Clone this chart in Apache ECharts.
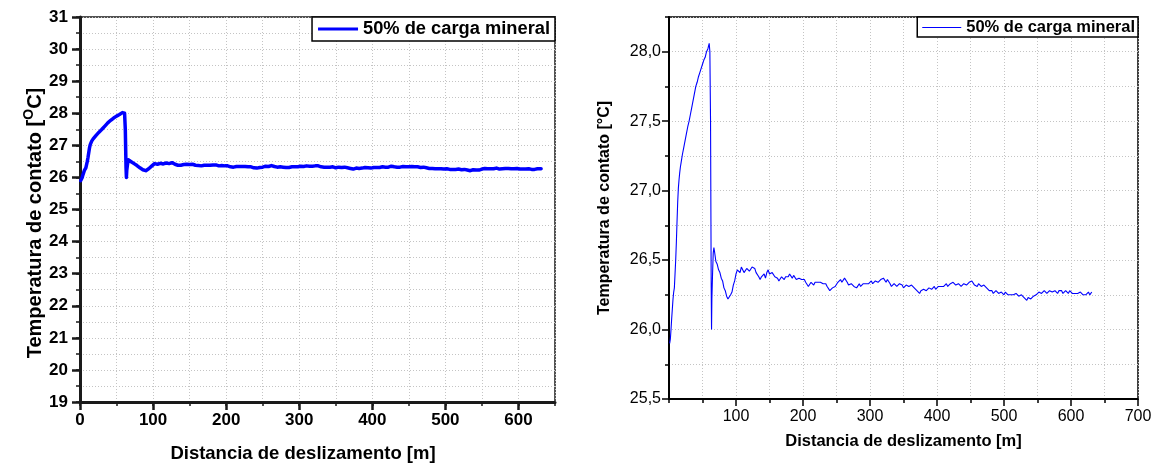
<!DOCTYPE html>
<html>
<head>
<meta charset="utf-8">
<script src="https://cdn.jsdelivr.net/npm/echarts@6/dist/echarts.min.js"></script>
<style>
  html, body { margin: 0; padding: 0; background: #fff; }
  #chart { width: 1157px; height: 468px; }
</style>
</head>
<body>
<div id="chart"></div>
<script>
// Contact temperature versus sliding distance, 50% mineral filler
const seriesName = '50% de carga mineral';

const distance = [
  1, 2, 3, 4, 5, 6, 7, 8, 9, 10, 11, 12, 13, 14, 15, 16, 17, 18, 20, 22,
  24, 26, 28, 30, 32, 34, 36, 38, 40, 42, 44, 46, 48, 50, 52, 54, 56, 58, 60, 61,
  62, 63, 63.5, 64, 65, 66, 67, 68, 70, 72, 74, 76, 78, 80, 82, 84, 86, 88, 90, 92,
  94, 96, 98,
  100, 102, 104, 106, 108, 110, 112, 114, 116, 118, 120, 122, 124, 126, 128, 130, 132, 134, 136, 138,
  140, 142, 144, 146, 148, 150, 152, 154, 156, 158, 160, 162, 164, 166, 168, 170, 172, 174, 176, 178,
  180, 182, 184, 186, 188, 190, 192, 194, 196, 198, 200, 202, 204, 206, 208, 210, 212, 214, 216, 218,
  220, 222, 224, 226, 228, 230, 232, 234, 236, 238, 240, 242, 244, 246, 248, 250, 252, 254, 256, 258,
  260, 262, 264, 266, 268, 270, 272, 274, 276, 278, 280, 282, 284, 286, 288, 290, 292, 294, 296, 298,
  300, 302, 304, 306, 308, 310, 312, 314, 316, 318, 320, 322, 324, 326, 328, 330, 332, 334, 336, 338,
  340, 342, 344, 346, 348, 350, 352, 354, 356, 358, 360, 362, 364, 366, 368, 370, 372, 374, 376, 378,
  380, 382, 384, 386, 388, 390, 392, 394, 396, 398, 400, 402, 404, 406, 408, 410, 412, 414, 416, 418,
  420, 422, 424, 426, 428, 430, 432, 434, 436, 438, 440, 442, 444, 446, 448, 450, 452, 454, 456, 458,
  460, 462, 464, 466, 468, 470, 472, 474, 476, 478, 480, 482, 484, 486, 488, 490, 492, 494, 496, 498,
  500, 502, 504, 506, 508, 510, 512, 514, 516, 518, 520, 522, 524, 526, 528, 530, 532, 534, 536, 538,
  540, 542, 544, 546, 548, 550, 552, 554, 556, 558, 560, 562, 564, 566, 568, 570, 572, 574, 576, 578,
  580, 582, 584, 586, 588, 590, 592, 594, 596, 598, 600, 602, 604, 606, 608, 610, 612, 614, 616, 618,
  620, 622, 624, 626, 628, 631
];

const temperature = [
  25.90, 25.93, 26.00, 26.08, 26.15, 26.22, 26.27, 26.30, 26.40, 26.50, 26.63, 26.78, 26.92, 27.02, 27.08, 27.13, 27.17, 27.20, 27.26, 27.31,
  27.36, 27.41, 27.46, 27.50, 27.55, 27.60, 27.65, 27.70, 27.75, 27.78, 27.82, 27.85, 27.88, 27.91, 27.94, 27.96, 28.00, 28.02, 28.06, 28.00,
  27.50, 26.30, 26.00, 26.22, 26.40, 26.55, 26.59, 26.56, 26.49, 26.47, 26.43, 26.41, 26.37, 26.35, 26.30, 26.28, 26.24, 26.22, 26.21, 26.25,
  26.27, 26.32, 26.35,
  26.40, 26.43, 26.42, 26.41, 26.45, 26.44, 26.41, 26.42, 26.44, 26.45, 26.42, 26.43, 26.45, 26.46, 26.44, 26.41, 26.40, 26.38, 26.36, 26.38,
  26.39, 26.40, 26.37, 26.41, 26.43, 26.40, 26.39, 26.41, 26.40, 26.38, 26.37, 26.37, 26.35, 26.36, 26.38, 26.38, 26.36, 26.38, 26.39, 26.38,
  26.40, 26.39, 26.37, 26.39, 26.38, 26.36, 26.35, 26.37, 26.37, 26.36, 26.35, 26.36, 26.34, 26.33, 26.31, 26.32, 26.34, 26.34, 26.32, 26.34,
  26.35, 26.34, 26.33, 26.34, 26.35, 26.33, 26.32, 26.33, 26.31, 26.30, 26.28, 26.29, 26.30, 26.31, 26.31, 26.32, 26.34, 26.35, 26.36, 26.34,
  26.35, 26.37, 26.36, 26.34, 26.32, 26.32, 26.33, 26.33, 26.31, 26.32, 26.30, 26.31, 26.33, 26.31, 26.32, 26.33, 26.34, 26.33, 26.32, 26.33,
  26.34, 26.35, 26.33, 26.34, 26.35, 26.36, 26.34, 26.35, 26.36, 26.35, 26.37, 26.36, 26.34, 26.36, 26.35, 26.33, 26.31, 26.32, 26.33, 26.32,
  26.31, 26.32, 26.33, 26.33, 26.32, 26.30, 26.31, 26.32, 26.32, 26.31, 26.30, 26.32, 26.31, 26.30, 26.29, 26.28, 26.27, 26.26, 26.28, 26.29,
  26.29, 26.28, 26.28, 26.29, 26.30, 26.31, 26.29, 26.30, 26.31, 26.29, 26.30, 26.31, 26.32, 26.31, 26.30, 26.31, 26.32, 26.33, 26.31, 26.32,
  26.33, 26.32, 26.34, 26.35, 26.32, 26.33, 26.33, 26.32, 26.31, 26.32, 26.33, 26.34, 26.32, 26.33, 26.34, 26.33, 26.35, 26.34, 26.32, 26.33,
  26.31, 26.33, 26.32, 26.31, 26.30, 26.32, 26.31, 26.30, 26.29, 26.28, 26.27, 26.28, 26.26, 26.27, 26.28, 26.27, 26.26, 26.27, 26.27, 26.26,
  26.25, 26.27, 26.26, 26.25, 26.24, 26.25, 26.26, 26.25, 26.24, 26.26, 26.25, 26.24, 26.23, 26.25, 26.24, 26.23, 26.22, 26.21, 26.23, 26.24,
  26.22, 26.23, 26.24, 26.23, 26.25, 26.26, 26.27, 26.28, 26.26, 26.27, 26.28, 26.27, 26.26, 26.27, 26.28, 26.29, 26.27, 26.26, 26.28, 26.27,
  26.26, 26.28, 26.27, 26.28, 26.26, 26.27, 26.28, 26.27, 26.26, 26.28, 26.27, 26.26, 26.25, 26.26, 26.27, 26.26, 26.25, 26.27, 26.26, 26.25,
  26.24, 26.25, 26.26, 26.27, 26.25, 26.27
];

// Major tick positions (labelled) for each panel
const leftXTicks = [0, 100, 200, 300, 400, 500, 600];
const leftYTicks = [19, 20, 21, 22, 23, 24, 25, 26, 27, 28, 29, 30, 31];
const rightXTicks = [100, 200, 300, 400, 500, 600, 700];
const rightYTicks = [25.5, 26.0, 26.5, 27.0, 27.5, 28.0];

const points = distance.map((d, i) => [d, temperature[i]]);

const FONT = 'Arial, "Liberation Sans", sans-serif';
const BLUE = '#0000ff';
const gridLine = { show: true, lineStyle: { color: '#c4c4c4', width: 1, type: [1, 2] } };

function minorAxis(base, cfg) {
  return Object.assign({
    type: 'value',
    axisLine: { show: true, onZero: false, lineStyle: { color: cfg.lineColor, width: cfg.lineWidth } },
    axisTick: { show: true, inside: false, length: cfg.minorLen, lineStyle: { color: cfg.lineColor, width: 1.5 } },
    splitLine: gridLine
  }, base);
}

function majorTickAxis(base, ticks, cfg) {
  return Object.assign({
    type: 'value',
    axisLine: { show: false, onZero: false },
    axisTick: { show: true, inside: false, length: cfg.majorLen, customValues: ticks,
      lineStyle: { color: cfg.lineColor, width: cfg.tickWidth } },
    axisLabel: { show: false },
    splitLine: { show: false }
  }, base);
}

const leftCfg = { lineColor: '#1a1a1a', lineWidth: 3, minorLen: 4, majorLen: 8, tickWidth: 2.5 };
const rightCfg = { lineColor: '#000', lineWidth: 2, minorLen: 4, majorLen: 7, tickWidth: 1.5 };

const commaFmt = v => v.toFixed(1).replace('.', ',');

const option = {
  animation: false,
  backgroundColor: '#fff',
  textStyle: { fontFamily: FONT, color: '#000' },
  grid: [
    { left: 80, top: 17, width: 475, height: 385, show: true, borderColor: '#1a1a1a', borderWidth: 1.5, backgroundColor: 'transparent' },
    { left: 669, top: 17, width: 469, height: 382, show: true, borderColor: '#000', borderWidth: 1.5, backgroundColor: 'transparent' }
  ],
  legend: [
    {
      data: [seriesName], right: 602, top: 17, orient: 'horizontal',
      icon: 'rect', itemWidth: 40, itemHeight: 3,
      padding: [3, 5, 3, 6], borderColor: '#000', borderWidth: 1.5, backgroundColor: '#fff',
      selectedMode: false,
      textStyle: { fontFamily: FONT, fontWeight: 'bold', fontSize: 18.3, color: '#000' }
    },
    {
      data: [seriesName], right: 19, top: 17, orient: 'horizontal',
      icon: 'rect', itemWidth: 39, itemHeight: 1,
      padding: [2, 3, 1, 5], borderColor: '#000', borderWidth: 1.5, backgroundColor: '#fff',
      selectedMode: false,
      textStyle: { fontFamily: FONT, fontWeight: 'bold', fontSize: 16.5, color: '#000' }
    }
  ],
  xAxis: [
    minorAxis({
      gridIndex: 0, min: 0, max: 650, interval: 50,
      axisLabel: { margin: 10, fontFamily: FONT, fontWeight: 'bold', fontSize: 17, color: '#000',
        formatter: v => (v % 100 === 0 ? String(v) : '') },
      name: 'Distancia de deslizamento [m]', nameLocation: 'middle', nameGap: 42,
      nameTextStyle: { fontFamily: FONT, fontWeight: 'bold', fontSize: 18.5, color: '#000', padding: [0, 29, 0, 0] }
    }, leftCfg),
    majorTickAxis({ gridIndex: 0, min: 0, max: 650, interval: 100, position: 'bottom', offset: 0 }, leftXTicks, leftCfg),
    minorAxis({
      gridIndex: 1, min: 0, max: 700, interval: 50,
      axisLabel: { margin: 10, fontFamily: FONT, fontSize: 16, color: '#000',
        formatter: v => (v % 100 === 0 && v > 0 ? String(v) : '') },
      name: 'Distancia de deslizamento [m]', nameLocation: 'middle', nameGap: 34,
      nameTextStyle: { fontFamily: FONT, fontWeight: 'bold', fontSize: 16.5, color: '#000' }
    }, rightCfg),
    majorTickAxis({ gridIndex: 1, min: 0, max: 700, interval: 100, position: 'bottom', offset: 0 }, rightXTicks, rightCfg)
  ],
  yAxis: [
    minorAxis({
      gridIndex: 0, min: 19, max: 31, interval: 0.5,
      axisLabel: { margin: 12, fontFamily: FONT, fontWeight: 'bold', fontSize: 17, color: '#000',
        formatter: v => (Number.isInteger(v) ? String(v) : '') },
      name: '{a|Temperatura de contato [}{s|O}{a|C]}', nameLocation: 'middle', nameGap: 31, nameRotate: 90,
      nameTextStyle: {
        padding: [0, 27, 0, 0],
        rich: {
          a: { fontFamily: FONT, fontWeight: 'bold', fontSize: 20, color: '#000', lineHeight: 26 },
          s: { fontFamily: FONT, fontWeight: 'bold', fontSize: 14, color: '#000', verticalAlign: 'top', lineHeight: 14 }
        }
      }
    }, leftCfg),
    majorTickAxis({ gridIndex: 0, min: 19, max: 31, interval: 1, position: 'left', offset: 0 }, leftYTicks, leftCfg),
    minorAxis({
      gridIndex: 1, min: 25.5, max: 28.25, interval: 0.25,
      axisLabel: { margin: 8, fontFamily: FONT, fontSize: 16, color: '#000',
        formatter: v => (Math.abs(v * 2 - Math.round(v * 2)) < 1e-9 ? commaFmt(v) : '') },
      name: 'Temperatura de contato [°C]', nameLocation: 'middle', nameGap: 56, nameRotate: 90,
      nameTextStyle: { fontFamily: FONT, fontWeight: 'bold', fontSize: 16, color: '#000' }
    }, rightCfg),
    majorTickAxis({ gridIndex: 1, min: 25.5, max: 28.25, interval: 0.5, position: 'left', offset: 0 }, rightYTicks, rightCfg)
  ],
  series: [
    {
      type: 'line', name: seriesName, xAxisIndex: 0, yAxisIndex: 0,
      data: points, symbol: 'none', silent: true,
      lineStyle: { color: BLUE, width: 3.5, join: 'round', cap: 'round' },
      itemStyle: { color: BLUE }
    },
    {
      type: 'line', name: seriesName, xAxisIndex: 2, yAxisIndex: 2,
      data: points, symbol: 'none', silent: true,
      lineStyle: { color: BLUE, width: 1.1 },
      itemStyle: { color: BLUE }
    }
  ]
};

const chart = echarts.init(document.getElementById('chart'), null, { renderer: 'canvas' });
chart.setOption(option);
</script>
</body>
</html>
